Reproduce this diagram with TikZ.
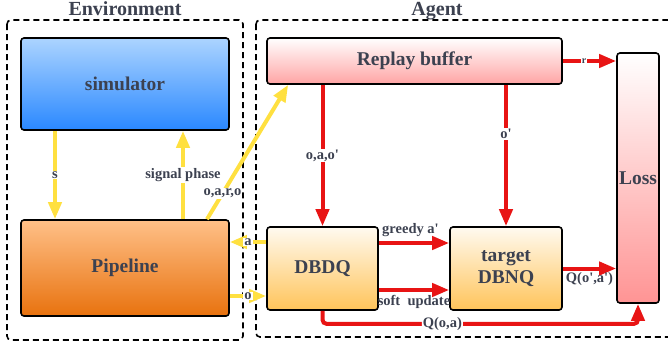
\documentclass[tikz,border=0pt]{standalone}
\usepackage{fontspec}
\setmainfont{Liberation Serif}
\usetikzlibrary{arrows.meta}
\definecolor{txtgray}{HTML}{3C4150}
\definecolor{flowyellow}{HTML}{FFE040}
\definecolor{flowred}{HTML}{E81414}
\newcommand{\qm}{\textquotesingle}
\tikzset{
    block/.style={draw=black, line width=1.6pt, rounded corners=3pt, text=txtgray,
        font=\bfseries\fontsize{19.5}{22}\selectfont, align=center, inner sep=0pt},
    envflow/.style={flowyellow, line width=4pt, -{Triangle[length=17pt,width=13pt]}},
    agentflow/.style={flowred, line width=4pt, -{Triangle[length=17pt,width=13pt]}},
    tag/.style={fill=white, text=txtgray, font=\bfseries\fontsize{14.5}{16}\selectfont, inner sep=1pt},
    frame/.style={line width=1.6pt, rounded corners=4pt, dash pattern=on 6pt off 4pt},
    title/.style={text=txtgray, font=\bfseries\fontsize{20}{22}\selectfont, inner sep=0pt, anchor=base}
}
\begin{document}
\begin{tikzpicture}[x=1pt, y=-1pt]
    % the frame
    \clip (0,0) rectangle (668,348);
    \draw[frame] (7,20) rectangle (243,340);
    \draw[frame] (256,20) rectangle (680,337);
    \node[title] (envtitle) at (125,16) {Environment};
    \node[title] (agenttitle) at (437,16) {Agent};

    % the blocks
    \node[block, top color={rgb,255:red,172;green,212;blue,255}, bottom color={rgb,255:red,42;green,136;blue,255},
        minimum width=208pt, minimum height=92pt] (simulator) at (125,84) {simulator};
    \node[block, top color={rgb,255:red,255;green,192;blue,136}, bottom color={rgb,255:red,232;green,114;blue,14},
        minimum width=208pt, minimum height=96pt] (pipeline) at (125,268) {Pipeline};
    \node[block, top color=white, bottom color={rgb,255:red,255;green,164;blue,164},
        minimum width=295pt, minimum height=46pt] (replay) at (414.5,61) {Replay buffer};
    \node[block, top color=white, bottom color={rgb,255:red,255;green,148;blue,148},
        minimum width=42pt, minimum height=250pt] (loss) at (638,178) {Loss};
    \node[block, top color={rgb,255:red,255;green,250;blue,240}, bottom color={rgb,255:red,255;green,196;blue,90},
        minimum width=111pt, minimum height=83pt] (dbdq) at (322.5,268.5) {DBDQ};
    \node[block, top color={rgb,255:red,255;green,250;blue,240}, bottom color={rgb,255:red,255;green,196;blue,90},
        minimum width=112pt, minimum height=83pt] (target) at (506,268.5) {target\\DBNQ};

    % environment flows
    \draw[envflow] ([xshift=-70pt]simulator.south) -- ([xshift=-70pt]pipeline.north)
        node[tag, pos=0.5] (slabel) {s};
    \draw[envflow] ([xshift=58pt]pipeline.north) -- ([xshift=58pt]simulator.south)
        node[tag, pos=0.5] (phaselabel) {signal phase};
    \draw[envflow] ([xshift=82pt]pipeline.north) -- ([xshift=22pt]replay.south west)
        node[tag, pos=0.19] (oarolabel) {o,a,r,o};
    \draw[envflow] ([yshift=26.5pt]dbdq.west) -- ([yshift=26.5pt]dbdq.west -| pipeline.east)
        node[tag, pos=0.5] (alabel) {a};
    \draw[envflow] ([yshift=-28pt]pipeline.east) -- ([yshift=-28pt]pipeline.east -| dbdq.west)
        node[tag, pos=0.5] (olabel) {o};

    % agent flows
    \draw[agentflow] (dbdq.north |- replay.south) -- (dbdq.north)
        node[tag, pos=0.5] (oaolabel) {o,a,o\qm};
    \draw[agentflow] (target.north |- replay.south) -- (target.north)
        node[tag, pos=0.35] (oplabel) {o\qm};
    \draw[agentflow] (replay.east) -- (replay.east -| loss.west)
        node[tag, pos=0.4, font=\bfseries\fontsize{10}{12}\selectfont, inner sep=0.5pt] (rlabel) {r};
    \draw[agentflow] ([yshift=25.5pt]dbdq.east) -- ([yshift=25.5pt]dbdq.east -| target.west)
        node[tag, fill=none, pos=0.45, above=3pt] (greedylabel) {greedy a\qm};
    \draw[agentflow] ([yshift=-21.5pt]dbdq.east) -- ([yshift=-21.5pt]dbdq.east -| target.west)
        node[tag, fill=none, pos=0.5, below=2pt] (softlabel) {soft\ \ update};
    \draw[agentflow] (target.east) -- (target.east -| loss.west)
        node[tag, fill=none, pos=0.5, below=1pt] (qnextlabel) {Q(o\qm,a\qm)};
    \draw[agentflow, rounded corners=4pt] (dbdq.south) -- ++(0,13) -| (loss.south)
        node[tag, pos=0.19] (qlabel) {Q(o,a)};
\end{tikzpicture}
\end{document}
